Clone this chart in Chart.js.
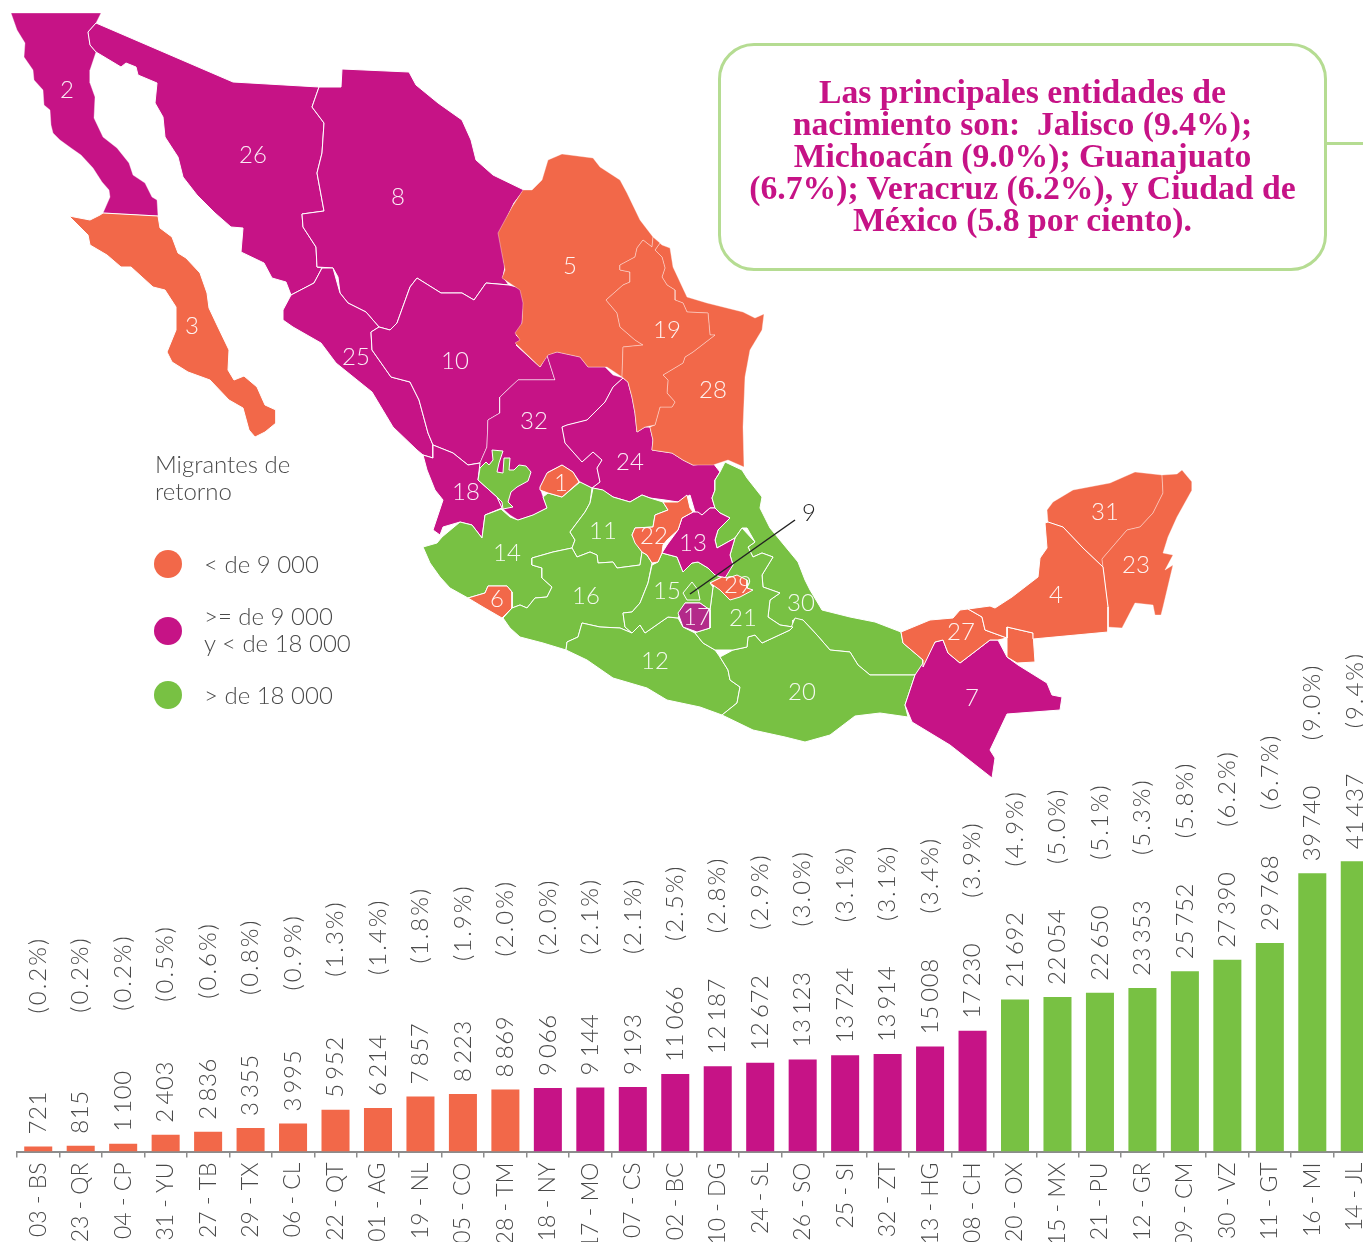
<!DOCTYPE html>
<html lang="es">
<head>
<meta charset="utf-8">
<title>Migrantes de retorno</title>
<script src="https://cdn.jsdelivr.net/npm/chart.js@4"></script>
<style>
  html, body { margin: 0; padding: 0; background: #fff; width: 1363px; height: 1242px; overflow: hidden; }
  canvas { position: absolute; left: 0; }
  #mapChart { top: 0; }
  #barChart { top: 650px; }
  .txt { position: absolute; font-family: Lato, sans-serif; font-weight: 300; font-size: 24px; line-height: 27px; color: #4a4a4a; white-space: pre; }
  #note { position: absolute; left: 718px; top: 43px; width: 603px; height: 222px; border: 3px solid #b5dc92; border-radius: 36px; }
  #noteText { position: absolute; left: 718px; top: 76px; width: 609px; text-align: center; font-family: "Liberation Serif", serif; font-weight: bold; font-size: 33.7px; line-height: 32px; color: #c61386; white-space: pre; }
  #noteLink { position: absolute; left: 1327px; top: 142px; width: 36px; border-top: 3px solid #b5dc92; }
</style>
</head>
<body>
<canvas id="mapChart" width="1363" height="1242"></canvas>
<canvas id="barChart" width="1400" height="592"></canvas>
<div id="note"></div>
<div id="noteLink"></div>
<div id="noteText">Las principales entidades de
nacimiento son:  Jalisco (9.4%);
Michoacán (9.0%); Guanajuato
(6.7%); Veracruz (6.2%), y Ciudad de
México (5.8 por ciento).</div>
<div class="txt" style="left:155px;top:450px">Migrantes de
retorno</div>
<div class="txt" style="left:204px;top:550px">&lt; de 9 000</div>
<div class="txt" style="left:204px;top:602px">&gt;= de 9 000
y &lt; de 18 000</div>
<div class="txt" style="left:204px;top:681px">&gt; de 18 000</div>
<script>
// Bar data
const codes = ["03 - BS", "23 - QR", "04 - CP", "31 - YU", "27 - TB", "29 - TX", "06 - CL", "22 - QT", "01 - AG", "19 - NL", "05 - CO", "28 - TM", "18 - NY", "17 - MO", "07 - CS", "02 - BC", "10 - DG", "24 - SL", "26 - SO", "25 - SI", "32 - ZT", "13 - HG", "08 - CH", "20 - OX", "15 - MX", "21 - PU", "12 - GR", "09 - CM", "30 - VZ", "11 - GT", "16 - MI", "14 - JL"]
const migrants = [721, 815, 1100, 2403, 2836, 3355, 3995, 5952, 6214, 7857, 8223, 8869, 9066, 9144, 9193, 11066, 12187, 12672, 13123, 13724, 13914, 15008, 17230, 21692, 22054, 22650, 23353, 25752, 27390, 29768, 39740, 41437]
const shares = ["0.2", "0.2", "0.2", "0.5", "0.6", "0.8", "0.9", "1.3", "1.4", "1.8", "1.9", "2.0", "2.0", "2.1", "2.1", "2.5", "2.8", "2.9", "3.0", "3.1", "3.1", "3.4", "3.9", "4.9", "5.0", "5.1", "5.3", "5.8", "6.2", "6.7", "9.0", "9.4"]

// Map outlines, one list per state
const bajaNorte = [[11,13],[101,13],[96,23],[88,32],[90,45],[96,52],[90,70],[90,83],[95,97],[94,118],[103,137],[117,148],[129,163],[133,175],[145,183],[152,197],[157,200],[158,216],[103,213],[110,197],[109,190],[102,182],[93,168],[81,155],[71,148],[60,140],[53,133],[51,125],[50,110],[44,105],[43,90],[34,80],[33,70],[24,57],[25,43],[17,30]]
const bajaSur = [[103,213],[158,216],[160,228],[172,237],[178,253],[186,258],[200,273],[207,293],[209,308],[217,325],[229,350],[228,370],[234,380],[244,376],[257,387],[265,405],[276,410],[276,423],[265,432],[255,437],[249,430],[243,408],[229,400],[210,380],[188,372],[172,362],[167,352],[176,330],[176,307],[165,290],[153,287],[131,267],[121,267],[107,255],[90,245],[88,235],[69,216],[90,220],[100,215]]
const sonora = [[96,23],[233,82],[319,87],[312,107],[324,123],[322,153],[317,173],[324,211],[302,214],[303,227],[316,247],[317,267],[322,268],[314,283],[291,295],[286,282],[272,278],[264,263],[241,252],[243,228],[231,227],[215,213],[197,195],[183,177],[178,157],[165,137],[163,117],[155,103],[157,83],[138,75],[136,67],[126,63],[121,67],[96,52],[90,45],[88,32]]
const chihuahua = [[319,87],[341,87],[342,69],[409,72],[416,85],[438,103],[462,120],[471,140],[476,160],[493,175],[524,190],[514,203],[500,233],[505,267],[503,277],[509,285],[486,283],[474,300],[462,293],[441,293],[417,278],[410,287],[397,323],[390,330],[379,327],[366,312],[348,303],[340,293],[338,277],[333,268],[317,267],[316,247],[303,227],[302,214],[324,211],[317,173],[322,153],[324,123],[312,107]]
const sinaloa = [[322,268],[333,268],[340,293],[348,303],[366,312],[379,327],[371,332],[372,350],[391,377],[410,382],[419,400],[428,433],[433,445],[433,458],[423,455],[417,450],[393,427],[372,392],[336,363],[321,343],[293,327],[283,320],[283,310],[291,295],[314,283]]
const durango = [[509,285],[521,288],[524,303],[522,325],[516,335],[521,340],[516,345],[540,367],[547,355],[555,380],[518,380],[500,397],[500,413],[488,420],[487,447],[480,463],[468,465],[453,453],[433,445],[428,433],[419,400],[410,382],[391,377],[372,350],[371,332],[379,327],[390,330],[397,323],[410,287],[417,278],[441,293],[462,293],[474,300],[486,283]]
const nayarit = [[423,455],[433,458],[433,445],[453,453],[468,465],[480,463],[478,480],[497,497],[502,508],[485,515],[482,538],[472,525],[460,522],[443,527],[440,535],[433,530],[443,500],[435,490],[427,470]]
const zacatecas = [[547,355],[557,352],[580,357],[588,367],[605,367],[613,375],[623,378],[613,387],[605,402],[587,420],[567,425],[562,427],[565,443],[582,462],[593,452],[602,460],[597,468],[600,482],[592,488],[580,482],[573,472],[562,465],[548,472],[540,488],[543,497],[547,508],[533,515],[518,520],[510,515],[502,508],[497,497],[478,480],[480,463],[487,447],[488,420],[500,413],[500,397],[518,380],[555,380]]
const aguascalientes = [[540,487],[547,473],[562,465],[573,472],[579,482],[570,490],[562,497],[548,493],[540,490]]
const sanLuis = [[623,378],[628,382],[632,397],[635,413],[637,432],[645,427],[650,427],[653,440],[652,450],[672,453],[683,460],[693,465],[713,463],[720,472],[715,480],[715,490],[712,498],[715,508],[710,508],[702,515],[695,512],[690,495],[678,502],[665,500],[650,498],[642,495],[630,502],[613,497],[602,490],[592,488],[600,482],[597,468],[602,460],[593,452],[582,462],[565,443],[562,427],[567,425],[587,420],[605,402],[613,387]]
const coahuila = [[523,190],[532,190],[542,180],[548,160],[562,154],[593,158],[600,167],[620,180],[627,193],[640,220],[653,237],[652,247],[643,240],[637,248],[635,257],[620,265],[620,270],[630,272],[630,282],[623,285],[606,300],[617,313],[620,327],[635,340],[643,345],[623,347],[622,377],[607,367],[588,367],[580,357],[557,352],[548,355],[540,367],[515,343],[520,340],[515,333],[522,323],[523,303],[520,290],[502,278],[505,270],[498,233],[512,207]]
const nuevoLeon = [[653,237],[660,243],[655,250],[662,257],[665,268],[662,277],[667,285],[675,290],[675,300],[683,303],[687,312],[708,313],[710,335],[715,335],[693,352],[685,357],[683,363],[663,375],[668,380],[667,393],[675,402],[672,407],[660,407],[655,425],[645,427],[637,432],[635,413],[632,397],[628,382],[622,377],[623,347],[643,345],[635,340],[620,327],[617,313],[606,300],[623,285],[630,282],[630,272],[620,270],[620,265],[635,257],[637,248],[643,240],[652,247]]
const tamaulipas = [[653,237],[662,245],[670,248],[673,267],[687,297],[707,303],[743,312],[755,318],[764,314],[762,330],[750,350],[745,377],[743,427],[744,467],[728,460],[713,465],[693,465],[683,460],[672,453],[652,450],[653,440],[650,427],[655,425],[660,407],[672,407],[675,402],[667,393],[668,380],[663,375],[683,363],[685,357],[693,352],[715,335],[710,335],[708,313],[687,312],[683,303],[675,300],[675,290],[667,285],[662,277],[665,268],[662,257],[655,250],[660,243]]
const veracruz = [[720,472],[725,462],[742,470],[747,478],[762,497],[760,508],[770,528],[798,562],[805,580],[810,590],[822,610],[850,617],[875,622],[901,632],[903,643],[923,660],[923,668],[915,675],[870,675],[858,665],[850,652],[830,650],[817,635],[803,620],[793,620],[793,627],[780,625],[768,617],[770,600],[780,593],[763,587],[762,575],[773,557],[762,553],[753,557],[748,547],[755,542],[747,528],[742,528],[735,538],[717,548],[715,540],[718,530],[730,518],[720,513],[715,508],[712,498],[715,490],[715,480]]
const hidalgo = [[730,518],[718,530],[715,540],[717,548],[735,538],[730,555],[733,565],[725,578],[715,575],[708,568],[698,562],[692,563],[683,572],[677,557],[662,553],[667,545],[678,530],[682,518],[693,512],[698,512],[702,515],[710,508],[715,508],[720,513]]
const tlaxcala = [[710,583],[722,577],[728,578],[737,575],[747,580],[747,588],[753,590],[740,597],[730,600],[720,590]]
const morelos = [[678,613],[685,603],[700,603],[710,610],[710,628],[697,632],[683,627]]
const puebla = [[742,528],[755,542],[748,547],[753,557],[762,553],[773,557],[762,575],[763,587],[780,593],[770,600],[768,617],[780,625],[793,627],[790,630],[762,643],[755,635],[748,637],[747,647],[733,650],[715,650],[703,643],[695,633],[697,632],[710,628],[710,610],[713,587],[722,577],[733,565],[730,555],[735,538]]
const edoMexico = [[652,565],[648,583],[640,603],[632,612],[623,613],[625,627],[632,633],[640,625],[645,633],[668,617],[678,618],[685,603],[700,603],[710,610],[713,587],[710,583],[722,577],[715,575],[708,568],[698,562],[692,563],[683,572],[677,557],[662,553],[658,562]]
const cdmx = [[692,582],[698,590],[700,600],[687,600],[683,593]]
const queretaro = [[687,495],[690,508],[693,512],[682,518],[678,530],[667,540],[663,545],[662,553],[658,562],[652,563],[647,555],[642,552],[635,543],[632,535],[635,528],[653,527],[655,515],[668,510],[663,502],[678,502]]
const guanajuato = [[593,488],[603,490],[613,497],[630,502],[642,495],[650,498],[663,502],[668,510],[655,515],[653,527],[635,528],[632,535],[642,552],[640,565],[617,568],[613,562],[598,563],[597,555],[590,552],[577,557],[572,548],[575,540],[570,532],[585,512],[590,503]]
const jalisco = [[423,547],[437,543],[442,537],[460,522],[472,525],[482,538],[485,515],[501,509],[510,517],[518,520],[533,515],[547,508],[543,497],[548,493],[562,497],[580,482],[592,488],[590,503],[585,512],[570,532],[575,540],[572,548],[553,552],[532,558],[532,565],[542,568],[542,578],[552,587],[547,597],[535,598],[527,608],[520,605],[512,608],[512,592],[507,586],[488,586],[485,593],[468,598],[450,588],[440,577],[430,563]]
const jaliscoNorte = [[478,480],[480,468],[486,462],[489,465],[493,460],[492,450],[503,451],[499,463],[497,472],[503,473],[504,458],[510,458],[509,470],[514,470],[519,465],[526,466],[531,472],[528,481],[517,487],[511,492],[508,502],[513,507],[503,509],[502,502],[497,497]]
const colima = [[468,598],[485,593],[488,586],[507,586],[512,592],[512,608],[502,618],[483,607]]
const michoacan = [[503,618],[512,608],[520,605],[527,608],[535,598],[547,597],[552,587],[542,578],[542,568],[532,565],[532,558],[553,552],[572,548],[577,557],[590,552],[597,555],[598,563],[613,562],[617,568],[640,565],[642,552],[647,555],[652,563],[648,583],[640,603],[632,612],[623,613],[625,627],[632,633],[620,628],[600,627],[582,623],[578,637],[567,642],[566,650],[543,643],[520,637],[510,628]]
const guerrero = [[566,650],[567,642],[578,637],[582,623],[600,627],[620,628],[632,633],[640,625],[645,633],[668,617],[678,618],[683,627],[695,633],[703,643],[715,650],[720,657],[728,670],[730,680],[740,687],[737,703],[722,715],[700,707],[667,700],[647,688],[613,678],[587,660]]
const oaxaca = [[720,657],[733,650],[747,647],[748,637],[755,635],[762,643],[790,630],[795,618],[803,620],[817,635],[830,650],[850,652],[858,665],[870,675],[915,675],[905,705],[908,717],[880,713],[855,716],[830,735],[805,742],[785,737],[753,730],[722,715],[737,703],[740,687],[730,680],[728,670]]
const chiapas = [[915,675],[923,663],[935,642],[943,640],[948,653],[960,663],[977,650],[990,640],[998,640],[1007,657],[1018,665],[1047,683],[1052,695],[1062,697],[1060,710],[1007,714],[990,750],[995,758],[992,778],[950,745],[912,722],[905,705]]
const tabasco = [[901,632],[930,620],[953,618],[960,610],[968,609],[982,617],[985,630],[1007,638],[998,640],[990,640],[977,650],[960,663],[948,653],[943,640],[935,642],[923,667],[923,660],[903,643]]
const tabascoEste = [[1007,627],[1033,633],[1035,662],[1017,663],[1007,657],[1007,638]]
const campeche = [[968,609],[990,606],[995,608],[1012,597],[1038,577],[1040,558],[1047,548],[1045,523],[1048,522],[1063,527],[1083,548],[1103,567],[1108,607],[1108,632],[1033,639],[1033,633],[1007,627],[1007,638],[985,630],[982,617]]
const yucatan = [[1047,510],[1053,502],[1073,490],[1110,483],[1135,472],[1162,475],[1163,493],[1153,513],[1140,527],[1127,530],[1102,559],[1103,567],[1083,548],[1063,527],[1048,522]]
const quintanaRoo = [[1162,475],[1177,474],[1182,470],[1192,482],[1192,490],[1177,517],[1168,537],[1163,553],[1173,555],[1165,570],[1173,565],[1163,607],[1161,615],[1155,615],[1153,605],[1135,603],[1122,628],[1107,627],[1108,607],[1103,567],[1102,559],[1127,530],[1140,527],[1153,513],[1163,493]]

// State number, outline. Colour comes from the same bar values
const mapStates = [
  ["02", bajaNorte], ["03", bajaSur], ["26", sonora], ["08", chihuahua], ["25", sinaloa], ["10", durango],
  ["32", zacatecas], ["18", nayarit], ["24", sanLuis], ["05", coahuila], ["28", tamaulipas], ["19", nuevoLeon],
  ["30", veracruz], ["14", jalisco], ["14", jaliscoNorte], ["01", aguascalientes], ["11", guanajuato],
  ["16", michoacan], ["06", colima], ["12", guerrero], ["20", oaxaca], ["21", puebla], ["15", edoMexico],
  ["09", cdmx], ["13", hidalgo], ["22", queretaro], ["29", tlaxcala], ["17", morelos], ["07", chiapas],
  ["27", tabasco], ["27", tabascoEste], ["31", yucatan], ["23", quintanaRoo], ["04", campeche],
]

// These states have a faint border in the picture, the others a plain white one
const faintBorders = ["02", "05", "19", "28", "31", "23", "32"]

// Number written on each state
const stateLabels = [["2",67,90],["26",253,155],["8",398,197],["3",192,326],["5",570,266],["19",667,330],["28",713,390],["25",356,357],["10",455,361],["32",534,421],["24",630,462],["18",466,492],["1",561,483],["14",507,553],["11",603,531],["22",654,536],["13",693,543],["15",667,591],["16",586,596],["29",738,585],["6",497,599],["21",743,618],["30",801,603],["17",697,617],["12",655,661],["20",802,692],["27",961,632],["4",1056,595],["31",1105,512],["23",1136,565],["7",972,698]]
const leaderLine = [[690,594],[795,520]]
const legendDots = [[168,564,5000],[168,631,10000],[168,695,20000]]

const ORANGE = "#f26849"
const MAGENTA = "#c61386"
const GREEN = "#78c143"
const TEXT = "#4a4a4a"
const LABEL_FONT = '300 24px Lato, sans-serif'

function colorFor(value) {
  if (value < 9000) return ORANGE
  if (value < 18000) return MAGENTA
  return GREEN
}

function stateColor(num) {
  if (num === "17") return "#b32a8a"
  const i = codes.findIndex((c) => c.startsWith(num))
  return colorFor(migrants[i])
}

function formatValue(v) {
  return String(v).replace(/\B(?=(\d{3})+$)/g, "\u2009")
}

function toPoints(pairs) {
  return pairs.map(([x, y]) => ({ x, y }))
}

// Map chart
const mapDatasets = mapStates.map(([num, outline], i) => ({
  data: toPoints([...outline, outline[0]]),
  showLine: true,
  fill: "shape",
  backgroundColor: stateColor(num),
  borderColor: faintBorders.includes(num) ? "rgba(255,255,255,0.35)" : "#ffffff",
  borderWidth: 1,
  pointRadius: 0,
  tension: 0,
  order: -i,
}))

mapDatasets.push({
  data: toPoints(leaderLine),
  showLine: true,
  borderColor: "#222222",
  borderWidth: 1.5,
  pointRadius: 0,
  order: -100,
})

mapDatasets.push({
  data: legendDots.map(([x, y]) => ({ x, y })),
  showLine: false,
  pointRadius: 14,
  pointBorderWidth: 0,
  pointBackgroundColor: legendDots.map((d) => colorFor(d[2])),
  order: -101,
})

const stateLabelPlugin = {
  id: "stateLabels",
  afterDatasetsDraw(chart) {
    const { ctx, scales } = chart
    ctx.save()
    ctx.font = LABEL_FONT
    ctx.textAlign = "center"
    ctx.textBaseline = "middle"
    ctx.fillStyle = "rgba(255,255,255,0.92)"
    stateLabels.forEach(([text, x, y]) => {
      ctx.fillText(text, scales.x.getPixelForValue(x), scales.y.getPixelForValue(y))
    })
    ctx.fillStyle = "#222222"
    ctx.fillText("9", scales.x.getPixelForValue(809), scales.y.getPixelForValue(513))
    ctx.restore()
  },
}

new Chart(document.getElementById("mapChart"), {
  type: "scatter",
  data: { datasets: mapDatasets },
  plugins: [stateLabelPlugin],
  options: {
    responsive: false,
    animation: false,
    layout: { padding: 0, autoPadding: false },
    plugins: { legend: { display: false }, tooltip: { enabled: false } },
    scales: {
      x: { type: "linear", min: 0, max: 1363, display: false },
      y: { type: "linear", min: 0, max: 1242, reverse: true, display: false },
    },
  },
})

// Bar chart
const barLabelPlugin = {
  id: "barLabels",
  afterDatasetsDraw(chart) {
    const { ctx } = chart
    const bars = chart.getDatasetMeta(0).data
    ctx.save()
    ctx.font = LABEL_FONT
    ctx.fillStyle = TEXT
    ctx.textAlign = "left"
    ctx.textBaseline = "middle"
    bars.forEach((bar, i) => {
      ctx.save()
      ctx.translate(bar.x, bar.y)
      ctx.rotate(-Math.PI / 2)
      ctx.letterSpacing = "0.6px"
      ctx.fillText(formatValue(migrants[i]), 12, 0)
      ctx.letterSpacing = "2px"
      ctx.fillText(`(${shares[i]}%)`, 133, 0)
      ctx.restore()
    })
    ctx.restore()
  },
}

new Chart(document.getElementById("barChart"), {
  type: "bar",
  data: {
    labels: codes,
    datasets: [{
      data: migrants,
      backgroundColor: migrants.map(colorFor),
      barPercentage: 1,
      categoryPercentage: 0.66,
    }],
  },
  plugins: [barLabelPlugin],
  options: {
    responsive: false,
    animation: false,
    layout: { padding: { left: 17, right: 24, top: 0, bottom: 0 } },
    plugins: { legend: { display: false }, tooltip: { enabled: false } },
    scales: {
      y: { display: false, min: 0, max: 71600 },
      x: {
        afterFit(scale) { scale.height = 90.5 },
        border: { color: "#8c8c8c", width: 2 },
        grid: { drawOnChartArea: false, color: "#8c8c8c", tickLength: 6, lineWidth: 1.5 },
        ticks: {
          autoSkip: false,
          minRotation: 90,
          maxRotation: 90,
          padding: 5,
          color: TEXT,
          font: { family: "Lato, sans-serif", size: 23, weight: "300" },
        },
      },
    },
  },
})
</script>
</body>
</html>
